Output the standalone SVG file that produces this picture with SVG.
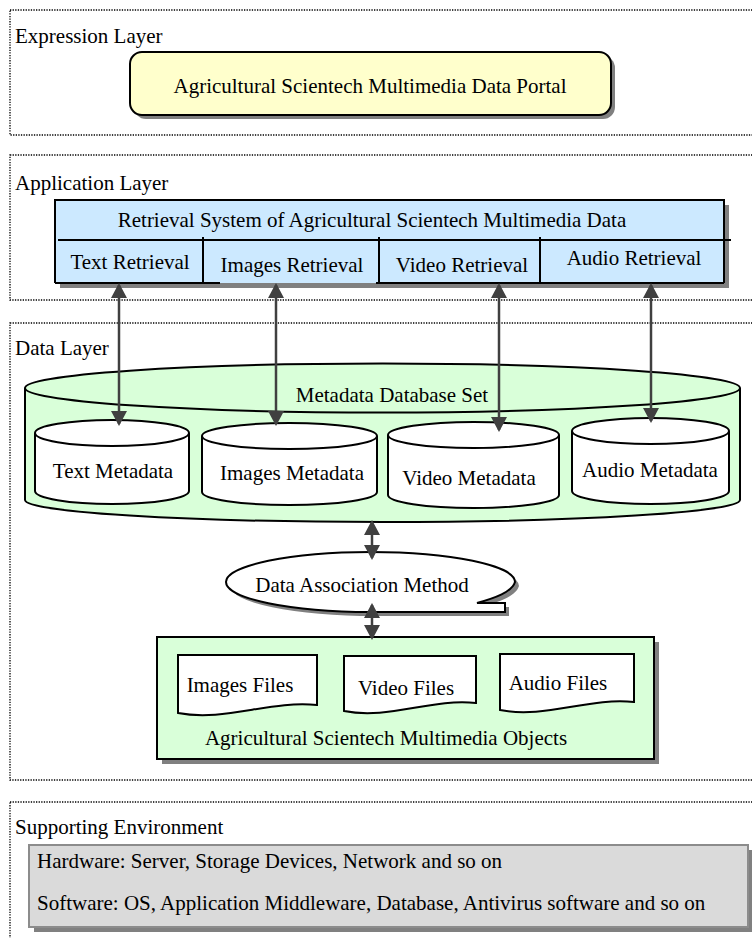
<svg xmlns="http://www.w3.org/2000/svg" width="752" height="938" viewBox="0 0 752 938">
<style>
text{font-family:'Liberation Serif','DejaVu Serif',serif;font-size:21px;fill:#000}
.mid{text-anchor:middle}
.layer{fill:none;stroke:#000;stroke-width:1.3;stroke-dasharray:1.3 1.3}
.shadow{fill:#808080;stroke:none}
.ln{fill:none;stroke:#000;stroke-width:2}
.cyl{fill:#fff;stroke:#000;stroke-width:2}
.doc{fill:#fff;stroke:#000;stroke-width:2}
.arrow{fill:none;stroke:#404040;stroke-width:2.5;marker-start:url(#ah);marker-end:url(#ah)}
</style>
<defs>
<marker id="ah" viewBox="0 0 15 16" refX="13" refY="8" markerWidth="15" markerHeight="16" markerUnits="userSpaceOnUse" orient="auto-start-reverse">
<path d="M0,0 L15,8 L0,16 Z" fill="#404040"/>
</marker>
</defs>
<rect width="752" height="938" fill="#fff"/>
<g font-family="'Liberation Serif', 'DejaVu Serif', serif" font-size="21">

<g id="layers">
<rect class="layer" x="10" y="10" width="760" height="125"/>
<rect class="layer" x="10" y="155" width="760" height="145"/>
<rect class="layer" x="10" y="323" width="760" height="457"/>
<rect class="layer" x="10" y="802" width="760" height="160"/>
<text x="15" y="43">Expression Layer</text>
<text x="15" y="190">Application Layer</text>
<text x="15" y="355">Data Layer</text>
<text x="15" y="834">Supporting Environment</text>
</g>

<g id="portal">
<rect class="shadow" x="134" y="56" width="481" height="63" rx="12"/>
<rect x="130" y="52" width="481" height="63" rx="12" fill="#ffffcc" stroke="#000" stroke-width="2"/>
<text class="mid" x="370" y="93">Agricultural Scientech Multimedia Data Portal</text>
</g>

<g id="retrieval-system">
<rect class="shadow" x="60" y="205" width="669" height="83"/>
<rect x="55" y="200" width="669" height="83" fill="#cce9ff" stroke="none"/>
<path class="ln" d="M55,283 L55,200 L724,200 L724,283 M55,283 L220,283 M376,283 L724,283"/>
<path class="ln" d="M58,240 L731,240 M203,237 L203,283 M379,237 L379,283 M540,237 L540,283"/>
<text class="mid" x="372" y="227">Retrieval System of Agricultural Scientech Multimedia Data</text>
<text class="mid" x="130" y="269">Text Retrieval</text>
<text class="mid" x="292" y="272">Images Retrieval</text>
<text class="mid" x="462" y="272">Video Retrieval</text>
<text class="mid" x="634" y="265">Audio Retrieval</text>
</g>

<g id="metadata-database-set">
<path d="M25,388 L25,500 A357.5 22 0 0 0 740 500 L740 388 A357.5 24.5 0 0 0 25 388 Z" fill="#d9ffd9" stroke="#000" stroke-width="2"/>
<path class="ln" d="M25,388 A357.5 24.5 0 0 0 740 388"/>
<text class="mid" x="392" y="402">Metadata Database Set</text>
</g>

<g id="text-metadata">
<path class="cyl" d="M35,433 L35,491 A77 13 0 0 0 189 491 L189 433 A77 13 0 0 0 35 433 Z"/>
<path class="ln" d="M35,433 A77 13 0 0 0 189 433"/>
<text class="mid" x="113" y="478">Text Metadata</text>
</g>

<g id="images-metadata">
<path class="cyl" d="M202,436 L202,492 A87.5 13 0 0 0 377 492 L377 436 A87.5 13 0 0 0 202 436 Z"/>
<path class="ln" d="M202,436 A87.5 13 0 0 0 377 436"/>
<text class="mid" x="292" y="480">Images Metadata</text>
</g>

<g id="video-metadata">
<path class="cyl" d="M388,435 L388,495 A85.5 13 0 0 0 559 495 L559 435 A85.5 13 0 0 0 388 435 Z"/>
<path class="ln" d="M388,435 A85.5 13 0 0 0 559 435"/>
<text class="mid" x="469" y="485">Video Metadata</text>
</g>

<g id="audio-metadata">
<path class="cyl" d="M572,431 L572,491 A78.5 13 0 0 0 729 491 L729 431 A78.5 13 0 0 0 572 431 Z"/>
<path class="ln" d="M572,431 A78.5 13 0 0 0 729 431"/>
<text class="mid" x="650" y="477">Audio Metadata</text>
</g>

<g id="data-association-method">
<path class="shadow" transform="translate(4,4)" d="M515,582 A144.5 30 0 0 0 226 582 A144.5 30 0 0 0 370.5 612 L505 612 L505 603 L477 603 C495 598 512 592 515 582 Z"/>
<path d="M515,582 A144.5 30 0 0 0 226 582 A144.5 30 0 0 0 370.5 612 L505 612 L505 603 L477 603 C495 598 512 592 515 582 Z" fill="#fff" stroke="#000" stroke-width="2"/>
<text class="mid" x="362" y="592">Data Association Method</text>
</g>

<g id="multimedia-objects">
<rect class="shadow" x="162" y="642" width="497" height="122"/>
<rect x="157" y="637" width="497" height="122" fill="#d9ffd9" stroke="#000" stroke-width="2"/>
<text class="mid" x="386" y="745">Agricultural Scientech Multimedia Objects</text>
</g>

<g id="images-files">
<path class="doc" d="M178,655 L317,655 L317,705 C270,700 225,722 178,713 Z"/>
<text class="mid" x="240" y="692">Images Files</text>
</g>

<g id="video-files">
<path class="doc" d="M344,656 L476,656 L476,703 C431,698 389,720 344,711 Z"/>
<text class="mid" x="406" y="695">Video Files</text>
</g>

<g id="audio-files">
<path class="doc" d="M500,654 L634,654 L634,702 C589,697 545,719 500,710 Z"/>
<text class="mid" x="558" y="690">Audio Files</text>
</g>

<g id="supporting-box">
<rect class="shadow" x="34" y="850" width="719" height="82"/>
<rect x="29" y="845" width="719" height="82" fill="#dadada" stroke="#8c8c8c" stroke-width="2"/>
<text x="37" y="868">Hardware: Server, Storage Devices, Network and so on</text>
<text x="37" y="910">Software: OS, Application Middleware, Database, Antivirus software and so on</text>
</g>

<g id="connectors">
<line class="arrow" x1="119" y1="285" x2="119" y2="424"/>
<line class="arrow" x1="276" y1="285" x2="276" y2="424"/>
<line class="arrow" x1="499" y1="285" x2="499" y2="430"/>
<line class="arrow" x1="651" y1="285" x2="651" y2="421"/>
<line class="arrow" x1="372" y1="522" x2="372" y2="558"/>
<line class="arrow" x1="372" y1="605" x2="372" y2="638"/>
</g>
</g>
</svg>
